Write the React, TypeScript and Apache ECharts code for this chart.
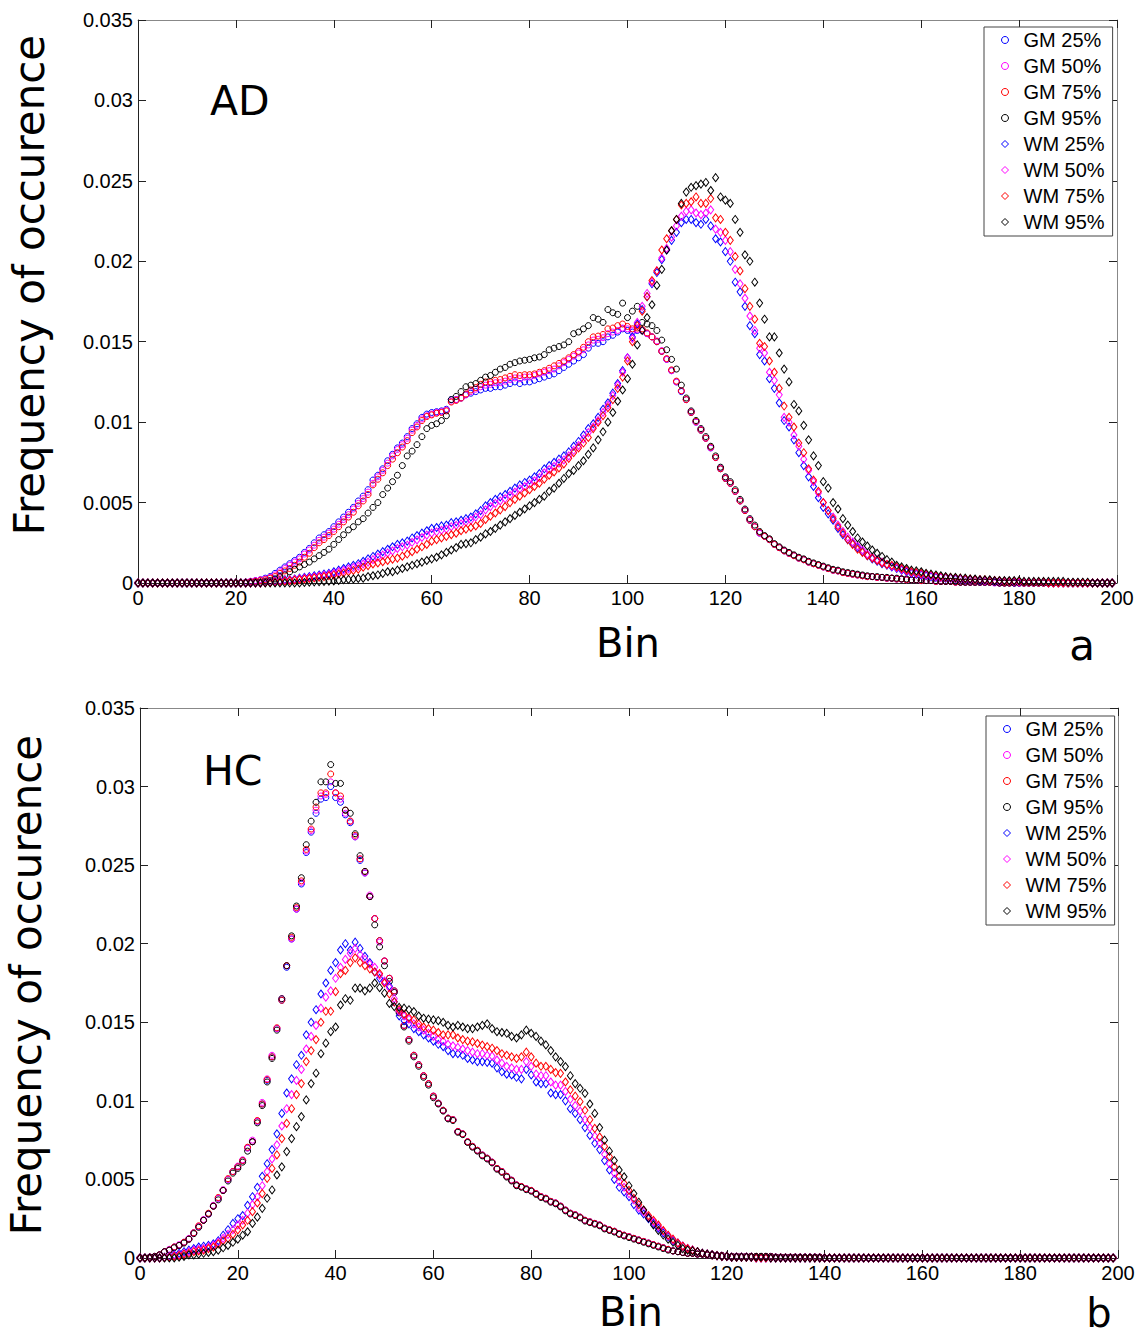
import React, { useEffect, useRef } from 'react';
import * as echarts from 'echarts';

// Values are in units of 1e-4 (frequency of occurence x 10000), index = bin (0..199)
const SERIES_NAMES = ['GM 25%', 'GM 50%', 'GM 75%', 'GM 95%', 'WM 25%', 'WM 50%', 'WM 75%', 'WM 95%'];
const SERIES_COLORS = ['#0000ff', '#ff00ff', '#ff0000', '#000000', '#0000ff', '#ff00ff', '#ff0000', '#000000'];
const X_TICK_STEP = 20;
const Y_MAX = 0.035;
const Y_STEP = 0.005;

// ---------------- Panel a (AD) ----------------
const GM25_A = [
  0,0,0,0,0,0,0,0,0,0,
  0,0,0,0,0,0,0,0,0,0,
  0,0,0.5,1,1.5,2,3,4,6,8,
  10,12,14,16,19,21.5,25,28,30,32,
  35,38,41,44,47,51,54,58,64,67,
  71,76,80,84,87,91,96,99,103,105,
  106,106.5,107,108,114,114,115,117,118,119,
  120,121,121,122,122,123,124,125,124,125,
  125,126,127,128,129,130,132,134,136,138,
  140,142,146,149,149,150,153,154,156,158,
  157,156,157,157,155,153,150,144,139,132,
  125,119,114,106,100,95,90,84,78,71,
  65,62,57,51,45,39,35,31,29,27,
  24,22,20,18.5,17,15.5,14.5,13,12,11,
  10,9,8,7.5,6.5,6,5.5,5,4.5,4,
  4,3.5,3.5,3,3,2.5,2.5,2,2,2,
  1.5,1.5,1.5,1,1,1,1,0.5,0.5,0.5,
  0.5,0.5,0.5,0.5,0.5,0.5,0,0,0,0,
  0,0,0,0,0,0,0,0,0,0,
  0,0,0,0,0,0,0,0,0,0,
];
const GM50_A = [
  0,0,0,0,0,0,0,0,0,0,
  0,0,0,0,0,0,0,0,0,0,
  0,0,0.5,1,1.5,2,2.5,3.5,5,7,
  9,11,13,15,18,20.5,23.5,26.5,28.5,31,
  33.5,36.5,39.5,42.5,46,49.5,52.5,56.5,62,66,
  70,74.5,79,83,86,90,95,98,102,104,
  105,106,106.5,107.5,113,114,115,117,119,120.5,
  122,123,123.5,124.5,124.5,125.5,126.5,127.5,127,128,
  128,129,130,131,132,133,135,137,139,141,
  143,145,148,151,151.5,152.5,155,156,157,158.5,
  158,157,157.5,157,155,153,150.5,144.5,139,132,
  125,119.5,114,106.5,100,95.5,90,84,78,71.5,
  65.5,62,57,51,45.5,39.5,35,31,29,27,
  24,22,20,18.5,17,15.5,14.5,13,12,11,
  10,9,8,7.5,6.5,6,5.5,5,4.5,4,
  4,3.5,3.5,3,3,2.5,2.5,2,2,2,
  1.5,1.5,1.5,1,1,1,1,0.5,0.5,0.5,
  0.5,0.5,0.5,0.5,0.5,0,0,0,0,0,
  0,0,0,0,0,0,0,0,0,0,
  0,0,0,0,0,0,0,0,0,0,
];
const GM75_A = [
  0,0,0,0,0,0,0,0,0,0,
  0,0,0,0,0,0,0,0,0,0,
  0,0,0.3,0.7,1,1.5,2,3,4,6,
  7.5,9,11,13,16,18.5,22,25,27,29.5,
  32,35,38,41,44,48,51,55,61,64.5,
  68.5,73,77,81,84.5,88.5,93.5,97,101,103.5,
  104.5,105.5,106,107,112.5,113.5,115,117.5,120,121.5,
  123.5,125,125,126,126.5,127.5,128.5,129.5,129,129.5,
  129.5,130,131,132,133.5,135,136.5,138,140,142,
  144,146.5,150,153,153.5,154.5,158,158.5,160,161,
  159.5,158,158.5,158,155.5,153,150,144,139.5,132.5,
  125.5,119.5,114,106,100.5,95,90,84.5,78,71,
  65,62,57,51,45,39,35,31.5,29,27,
  24,22,20,18.5,17,15.5,14.5,13,12,11,
  10,9,8,7.5,6.5,6,5.5,5,4.5,4,
  4,3.5,3.5,3,3,2.5,2.5,2,2,2,
  1.5,1.5,1.5,1,1,1,1,0.5,0.5,0.5,
  0.5,0.5,0.5,0.5,0.5,0.5,0,0,0,0,
  0,0,0,0,0,0,0,0,0,0,
  0,0,0,0,0,0,0,0,0,0,
];
const GM95_A = [
  0,0,0,0,0,0,0,0,0,0,
  0,0,0,0,0,0,0,0,0,0,
  0,0,0,0,0.5,0.5,1,1.5,2.5,4,
  5,7,8.5,10,11.5,13,15,17,19,21,
  24,27,30,33,35,38,40,43.5,47,50,
  55,59,63,67,73,79,82,86,91,96,
  98,99,101,104,114,116,119,122,123,124,
  126,128,129,131,133,134,136,137,138,138.5,
  139,140,140.5,142,145,146,147,148,150,155,
  156,158,160,165,164,162,170,168,167,174,
  165,169,172,162,161,160,157,151,145,139,
  133,123,115,107,101,96,91,85,79,72,
  66,63,58,52,46,40,36,32,29.5,27.5,
  24.5,22.5,20.5,19,17.5,16,15,13.5,12.5,11.5,
  10.5,9.5,8.5,8,7,6.5,6,5.5,5,4.5,
  4,4,3.5,3.5,3,3,2.5,2.5,2,2,
  2,1.5,1.5,1.5,1,1,1,1,0.5,0.5,
  0.5,0.5,0.5,0.5,0.5,0.5,0,0,0,0,
  0,0,0,0,0,0,0,0,0,0,
  0,0,0,0,0,0,0,0,0,0,
];
const WM25_A = [
  0,0,0,0,0,0,0,0,0,0,
  0,0,0,0,0,0,0,0,0,0,
  0,0,0,0,0,0,0.5,0.7,1,1.5,
  2,2,2.5,3,3.5,4,4.5,5,5.5,6,
  7,8,9,10,11,12,13.5,15,16.5,18,
  19.5,21,22.5,24,25,26,28,29.5,31,32.5,
  34,34.5,35.5,36,37.5,38,39,40,41,43,
  45,48,50,52,53.5,55,57,59,61,62.5,
  64,66,68,71,73,75,77,79,81.5,85,
  88,92,96,99,103,108,112,118,124,132,
  140,153,161,170,178,186,193,201,207,213,
  218,224,226,226,224,223,226,222,214,212,
  206,200,187,181,172,160,155,142,138,127,
  121,112,101,97,89,81,73,66,60,53,
  47,43,39,34,30,27,24.5,22,19.5,17,
  15,13.5,12,11,10,9,8,7,6,5.5,
  5,4.5,4,3.5,3.5,3,3,2.5,2.5,2,
  2,2,1.5,1.5,1.5,1,1,1,1,0.5,
  0.5,0.5,0.5,0.5,0.5,0.5,0,0,0,0,
  0,0,0,0,0,0,0,0,0,0,
];
const WM50_A = [
  0,0,0,0,0,0,0,0,0,0,
  0,0,0,0,0,0,0,0,0,0,
  0,0,0,0,0,0,0.3,0.5,0.8,1.2,
  1.6,1.8,2.2,2.6,3,3.4,3.8,4.3,4.8,5.3,
  6,7,7.8,8.7,9.6,10.5,11.8,13,14.5,16,
  17.3,18.7,20,21.5,22.5,23.5,25.3,26.8,28.3,29.8,
  31,31.8,32.8,33.5,35,35.8,36.8,38,39,41,
  42.5,45.5,47.5,49.5,51,52.5,54.5,56.5,58.5,60,
  61.5,63.5,65.5,68.5,70.5,72.5,74.5,76.5,79,82.5,
  85.5,89.5,93.5,97,101,106,110.5,116.5,123,131,
  140,152,162,172,180,187,194,202,208,215,
  222,228,231,232,230,229,230,232,220,218,
  213,206,195,186,177,166,157,146,143,131,
  126,117,103,100,92,85,77,70,63,56,
  50,45,41,36,32,28.5,25.5,23,20.5,18,
  16,14.5,13,11.5,10.5,9.5,8.5,7.5,6.5,6,
  5.5,5,4.5,4,3.5,3.5,3,3,2.5,2.5,
  2,2,2,1.5,1.5,1.5,1,1,1,1,
  0.5,0.5,0.5,0.5,0.5,0.5,0,0,0,0,
  0,0,0,0,0,0,0,0,0,0,
];
const WM75_A = [
  0,0,0,0,0,0,0,0,0,0,
  0,0,0,0,0,0,0,0,0,0,
  0,0,0,0,0,0,0.2,0.4,0.6,0.9,
  1.2,1.5,1.8,2.1,2.5,2.8,3.2,3.6,4,4.5,
  5,5.6,6.2,7,7.8,8.6,9.8,10.8,11.8,12.5,
  13.2,14,14.8,15.5,16.7,18,19.5,21,22.5,24,
  26,27,28,29,30,31,32.5,33.5,34.5,35.5,
  37,39.5,41.5,43.5,45.5,47.5,50,52,54,56,
  58,60,62,64.5,67,69,71.5,74,77.5,81,
  84,87,90.5,96,100,104,109,114,121,128,
  138,150,160,169,178,188,194,207,214,219,
  226,235,236,237,240,236,236,239,227,226,
  218,213,203,194,183,172,164,149,147,138,
  131,121,110,103,97,87,81,71,64,57,
  50,45,40,35,31,27,24,21,19,17,
  15.5,14,12.5,11.5,11,10,9,8,7,6.5,
  6,5.5,5,4.5,4,3.5,3.5,3,3,2.5,
  2.5,2,2,2,1.5,1.5,1.5,1,1,1,
  1,0.5,0.5,0.5,0.5,0.5,0,0,0,0,
  0,0,0,0,0,0,0,0,0,0,
];
const WM95_A = [
  0,0,0,0,0,0,0,0,0,0,
  0,0,0,0,0,0,0,0,0,0,
  0,0,0,0,0,0,0,0,0,0,
  0,0,0,0,0.3,0.5,0.7,0.8,1,1.2,
  1.3,1.6,2,2.2,2.5,2.8,3,4,4.5,5,
  6,7,7,8,9,10,11,12,13,14,
  15,16,17.5,19,20.5,22,24,24.5,25,27,
  28.5,30.5,32,34,36,38,40,42,44,46,
  48,50,52,54,57,59,62,65,68,70,
  73,76,80,84,89,94,100,106,113,120,
  127,136,148,157,165,173,185,195,207,219,
  226,236,243,246,247,248,249,244,252,240,
  238,236,226,218,204,200,187,174,164,153,
  153,143,133,125,111,107,98,89,79,73,
  63,59,50,46,40,36,32,28,25.5,23,
  20.5,18.5,16.5,14.5,13,11,10,9,8,7.5,
  7,6,5.5,5,4.5,4,3.5,3.5,3,3,
  2.5,2.5,2,2,2,1.5,1.5,1.5,1.5,1.5,
  1.5,1,1,1,1,1,1,1,1,1,
  0.5,0.5,0.5,0.5,0.5,0,0,0,0,0,
];

// ---------------- Panel b (HC) ----------------
const GM25_B = [
  0,0,0.5,1,2,4,5,7,8,10,
  12,16,20,24,28,33,38,43,50,55,
  58,62,70,74,87,98,113,128,146,164,
  185,203,222,238,258,271,283,292,293,300,
  293,290,282,277,268,253,245,230,216,202,
  189,178,170,157,148,139,129,123,116,111,
  103,98.5,94,89,88,80.5,79,74,71,68.5,
  65.5,63.5,61,57,55,52,49.5,46.5,45.5,44,
  43,41,39,38,36,35,33,30.5,28.5,27.5,
  26,24,23,22,21,19,18,17,15.5,14.5,
  13.5,12.5,11.5,10.5,9.5,8.5,7.5,6.5,5.5,4.5,
  4,3.5,3,3,2.5,2.5,2,2,1.5,1.5,
  1,1,1,1,1,1,1,1,1,1,
  0.5,0.5,0.5,0.5,0.5,0.5,0.5,0.5,0.5,0.5,
  0,0,0,0,0,0,0,0,0,0,
  0,0,0,0,0,0,0,0,0,0,
  0,0,0,0,0,0,0,0,0,0,
  0,0,0,0,0,0,0,0,0,0,
  0,0,0,0,0,0,0,0,0,0,
  0,0,0,0,0,0,0,0,0,0,
];
const GM50_B = [
  0,0,0.5,1,2,4,5.5,7,8.5,10,
  12.5,16,20,24.5,28,33.5,38,43.5,50,55,
  58.5,62.5,70,75,87,99,114,129,146,165,
  186,203,222,239,259,272,285,294,295,303,
  296,292,283,278,268,254,245,231,216,201,
  189,178,169,157,148,139,129,123,116,111,
  103,98.5,94,89,88,80.5,79,74,71,68.5,
  65.5,63.5,61,57,55,52,49.5,46.5,45.5,44,
  43,41,39,38,36,35,33,30.5,28.5,27.5,
  26,24,23,22,21,19,18,17,15.5,14.5,
  13.5,12.5,11.5,10.5,9.5,8.5,7.5,6.5,5.5,4.5,
  4,3.5,3,3,2.5,2.5,2,2,1.5,1.5,
  1,1,1,1,1,1,1,1,1,1,
  0.5,0.5,0.5,0.5,0.5,0.5,0.5,0.5,0.5,0.5,
  0,0,0,0,0,0,0,0,0,0,
  0,0,0,0,0,0,0,0,0,0,
  0,0,0,0,0,0,0,0,0,0,
  0,0,0,0,0,0,0,0,0,0,
  0,0,0,0,0,0,0,0,0,0,
  0,0,0,0,0,0,0,0,0,0,
];
const GM75_B = [
  0,0,0.5,1,2,4,5,7,8,10,
  12,16,20.5,24,28.5,33,38.5,43,50.5,55,
  58,62,70.5,74,87.5,98,113.5,128,146.5,164,
  186,204,223,240,260,273,287,296,296,308,
  296,294,285,278,269,254,246,230,216,202,
  189,178,170,157,148,139,129,123,116,111,
  103,98.5,94,89,88,80.5,79,74,71,68.5,
  65.5,63.5,61,57,55,52,49.5,46.5,45.5,44,
  43,41,39,38,36,35,33,30.5,28.5,27.5,
  26,24,23,22,21,19,18,17,15.5,14.5,
  13.5,12.5,11.5,10.5,9.5,8.5,7.5,6.5,5.5,4.5,
  4,3.5,3,3,2.5,2.5,2,2,1.5,1.5,
  1,1,1,1,1,1,1,1,1,1,
  0.5,0.5,0.5,0.5,0.5,0.5,0.5,0.5,0.5,0.5,
  0,0,0,0,0,0,0,0,0,0,
  0,0,0,0,0,0,0,0,0,0,
  0,0,0,0,0,0,0,0,0,0,
  0,0,0,0,0,0,0,0,0,0,
  0,0,0,0,0,0,0,0,0,0,
  0,0,0,0,0,0,0,0,0,0,
];
const GM95_B = [
  0,0,0.5,1,2,4,5,6.5,8,9.5,
  12,15.5,19.5,24,28,33,37,43,49,54,
  57,61,68,74,86,97,112,127,145,165,
  186,205,224,242,263,278,290,303,303,314,
  302,302,285,283,270,256,246,230,212,198,
  186,176,169,156,147,138,128,122,115,110,
  102,98,93.5,88.5,87.5,80,78.5,73.5,70.5,68,
  65,63,60.5,56.5,54.5,51.5,49,46,45,43.5,
  42.5,40.5,38.5,37.5,35.5,34.5,32.5,30,28,27,
  25.5,23.5,22.5,21.5,20.5,18.5,17.5,16.5,15,14,
  13,12,11,10,9,8,7,6,5,4.5,
  4,3.5,3,3,2.5,2.5,2,2,1.5,1.5,
  1,1,1,1,1,1,1,1,1,1,
  0.5,0.5,0.5,0.5,0.5,0.5,0.5,0.5,0.5,0.5,
  0,0,0,0,0,0,0,0,0,0,
  0,0,0,0,0,0,0,0,0,0,
  0,0,0,0,0,0,0,0,0,0,
  0,0,0,0,0,0,0,0,0,0,
  0,0,0,0,0,0,0,0,0,0,
  0,0,0,0,0,0,0,0,0,0,
];
const WM25_B = [
  0,0,0,0,0,0.5,1,2,3,4,
  5,6,7,7.5,8,9,11,14.5,18,22,
  25,27,33.5,39,45,52,60,69,79,92,
  105,114,123,129,142,150,158,168,175,183,
  188,196,200,196,201,197,192,188,182,178,
  176,173,163,154,151,149,146,144,142,140,
  138,136,134.5,132,130,130,129,127,126,125,
  125,124.5,124,121,118.5,117,116.5,115,114,120,
  116.5,112,111,111,105,104,104,100,95,92,
  88,83,78,73,69,62,56,50,45,42,
  39,34,30.5,28,25,22,19,16,13.5,11,
  9.5,7.5,6,5,4,3,2.5,2,1.5,1,
  1,0.5,0.5,0.5,0.5,0.5,0,0,0,0,
  0,0,0,0,0,0,0,0,0,0,
  0,0,0,0,0,0,0,0,0,0,
  0,0,0,0,0,0,0,0,0,0,
  0,0,0,0,0,0,0,0,0,0,
  0,0,0,0,0,0,0,0,0,0,
  0,0,0,0,0,0,0,0,0,0,
  0,0,0,0,0,0,0,0,0,0,
];
const WM50_B = [
  0,0,0,0,0,0.3,0.7,1.5,2,3,
  4,5,5.5,6,7,8,10,12.5,15,18,
  21,24,28.5,34,39,46,55,63,72,84,
  95,104,113,120,133,141,148,159,166,170,
  178,185,190,194,197,193,190,187,185,180,
  176,172,165,157,154,152,149,147,145,143,
  141,139,138,136,135,134,133,132,131,130,
  130,129,128.5,126,124,122,121,120,120,125,
  122,117,116,116,112,110,110,106,101,97,
  93.5,88,83,77.5,73,66,60,54,48.5,45,
  41,37,32,29.5,26,23,20,17,14,11.5,
  9.5,7.5,6,5,4,3,2.5,2,1.5,1,
  1,0.5,0.5,0.5,0.5,0.5,0,0,0,0,
  0,0,0,0,0,0,0,0,0,0,
  0,0,0,0,0,0,0,0,0,0,
  0,0,0,0,0,0,0,0,0,0,
  0,0,0,0,0,0,0,0,0,0,
  0,0,0,0,0,0,0,0,0,0,
  0,0,0,0,0,0,0,0,0,0,
  0,0,0,0,0,0,0,0,0,0,
];
const WM75_B = [
  0,0,0,0,0,0.2,0.5,1,1.5,2.5,
  3,4,4.5,5,6,7,9,11,12.5,15,
  17.8,21,24,29.5,35,41,50.7,57,65.6,76,
  85.7,95,104,111,125,132,139,150,157,157,
  169.5,181,183,188,191,188,186,184,182,181,
  175,168,163,158,155,153,151.5,149,147,146,
  145,143.5,142,142,142,140,139,138,137.5,136.5,
  135.5,134.5,133.5,132,130,129,128,127,128,131,
  128,124,122,122,120,118,117.5,112,107,103,
  99.5,94,88,82.5,77,71,64.5,58,52,47.5,
  43,38,34,30.5,27,24,21,17.5,14.5,12,
  9.5,7.5,6,5,4,3,2.5,2,1.5,1,
  1,0.5,0.5,0.5,0.5,0.5,0,0,0,0,
  0,0,0,0,0,0,0,0,0,0,
  0,0,0,0,0,0,0,0,0,0,
  0,0,0,0,0,0,0,0,0,0,
  0,0,0,0,0,0,0,0,0,0,
  0,0,0,0,0,0,0,0,0,0,
  0,0,0,0,0,0,0,0,0,0,
  0,0,0,0,0,0,0,0,0,0,
];
const WM95_B = [
  0,0,0,0,0,0,0,0,0.5,1,
  2,2,2.5,3,3.5,4,5,6.5,8,10,
  12,14.5,16.7,22,26,31.6,38,43.3,52.8,58,
  67.7,76,83.6,90,100.6,111,117.6,130,136.7,144,
  147,161,165,164,171.7,171.7,170,171.7,175,172,
  168.5,162,160,159.5,159,158,156.8,154,152.6,152,
  151.5,151,150,148,147,148,147,146,146,147,
  148,149,146,144,143.5,143,141,140,142,145,
  143,141,138,135.6,132,128,125,121.8,116,111,
  108,104.8,98,92,83,75,68,62,56,51.7,
  46,41,35.5,30.5,25.5,21,17.5,14.6,12,10,
  8,6,5,4.5,4,3,2.5,2,1.5,1,
  1,0.5,0.5,0.5,0.5,0.5,0.5,0.5,0.5,0,
  0,0,0,0,0,0,0,0,0,0,
  0,0,0,0,0,0,0,0,0,0,
  0,0,0,0,0,0,0,0,0,0,
  0,0,0,0,0,0,0,0,0,0,
  0,0,0,0,0,0,0,0,0,0,
  0,0,0,0,0,0,0,0,0,0,
  0,0,0,0,0,0,0,0,0,0,
];

const PANEL_A = [GM25_A, GM50_A, GM75_A, GM95_A, WM25_A, WM50_A, WM75_A, WM95_A];
const PANEL_B = [GM25_B, GM50_B, GM75_B, GM95_B, WM25_B, WM50_B, WM75_B, WM95_B];

const TICK_FONT = "'Liberation Sans', Arial, sans-serif";
const TITLE_FONT = "'DejaVu Sans', Verdana, sans-serif";

function makeXAxes(gridIndex: number) {
  const base = {
    gridIndex,
    type: 'value' as const,
    min: 0,
    max: 200,
    interval: X_TICK_STEP,
    splitLine: { show: false },
  };
  return [
    {
      ...base,
      position: 'bottom',
      axisLine: { show: true, onZero: false, lineStyle: { color: '#222', width: 1 } },
      axisTick: { show: true, inside: true, length: 8, lineStyle: { color: '#222' } },
      axisLabel: { show: true, color: '#000', fontSize: 20, fontFamily: TICK_FONT, margin: 5 },
    },
    {
      ...base,
      position: 'top',
      axisLine: { show: true, onZero: false, lineStyle: { color: '#888', width: 1 } },
      axisTick: { show: true, inside: true, length: 8, lineStyle: { color: '#222' } },
      axisLabel: { show: false },
    },
  ];
}

function yFmt(v: number) {
  return v === 0 ? '0' : String(Number(v.toFixed(3)));
}

function makeYAxes(gridIndex: number) {
  const base = {
    gridIndex,
    type: 'value' as const,
    min: 0,
    max: Y_MAX,
    interval: Y_STEP,
    splitLine: { show: false },
  };
  return [
    {
      ...base,
      position: 'left',
      axisLine: { show: true, onZero: false, lineStyle: { color: '#222', width: 1 } },
      axisTick: { show: true, inside: true, length: 8, lineStyle: { color: '#222' } },
      axisLabel: { show: true, color: '#000', fontSize: 20, fontFamily: TICK_FONT, margin: 5, formatter: yFmt },
    },
    {
      ...base,
      position: 'right',
      axisLine: { show: true, onZero: false, lineStyle: { color: '#888', width: 1 } },
      axisTick: { show: true, inside: true, length: 8, lineStyle: { color: '#222' } },
      axisLabel: { show: false },
    },
  ];
}

function makeSeries(panel: number[][], axisIndex: number) {
  return panel.map((arr, k) => {
    const isDiamond = k >= 4;
    return {
      type: 'scatter',
      name: SERIES_NAMES[k],
      xAxisIndex: axisIndex,
      yAxisIndex: axisIndex,
      symbol: isDiamond ? 'diamond' : 'circle',
      symbolSize: isDiamond ? [6, 8] : 6,
      itemStyle: { color: 'rgba(0,0,0,0)', borderColor: SERIES_COLORS[k], borderWidth: 1, opacity: 1 },
      emphasis: { disabled: true },
      data: arr.map((v, i) => [i, v / 10000]),
      z: 2 + k * 0.01,
    };
  });
}

function makeLegend(left: number, top: number) {
  return {
    orient: 'vertical',
    left,
    top,
    padding: [3, 8, 4, 17],
    itemGap: 6,
    itemWidth: 7,
    itemHeight: 7,
    borderColor: '#444',
    borderWidth: 1,
    backgroundColor: '#fff',
    selectedMode: false,
    textStyle: { fontSize: 20, fontFamily: TICK_FONT, color: '#000', padding: [0, 0, 0, 10] },
    data: SERIES_NAMES.map((name, k) => ({
      name,
      icon: k >= 4 ? 'diamond' : 'circle',
      itemStyle: { color: 'rgba(0,0,0,0)', borderColor: SERIES_COLORS[k], borderWidth: 1 },
    })),
  };
}

function titleText(text: string, x: number, y: number, size: number, rotate = false, align = 'center') {
  return {
    type: 'text',
    x,
    y,
    rotation: rotate ? Math.PI / 2 : 0,
    silent: true,
    z: 10,
    style: {
      text,
      fill: '#000',
      font: `${size}px ${TITLE_FONT}`,
      align,
      verticalAlign: 'middle',
    },
  };
}

export default function App() {
  const ref = useRef<HTMLDivElement>(null);
  useEffect(() => {
    if (!ref.current) return;
    const chart = echarts.init(ref.current, null, { renderer: 'svg' });
    const option: any = {
      animation: false,
      backgroundColor: '#fff',
      grid: [
        { left: 138, top: 20, width: 979, height: 563 },
        { left: 140, top: 708, width: 978, height: 550 },
      ],
      xAxis: [...makeXAxes(0), ...makeXAxes(1)],
      yAxis: [...makeYAxes(0), ...makeYAxes(1)],
      legend: [makeLegend(984, 27), makeLegend(986, 716)],
      series: [...makeSeries(PANEL_A, 0), ...makeSeries(PANEL_B, 2)],
      graphic: [
        titleText('Frequency of occurence', 29, 285, 42, true),
        titleText('Frequency of occurence', 26, 985, 42, true),
        titleText('Bin', 628, 643, 40),
        titleText('Bin', 631, 1312, 40),
        titleText('AD', 210, 101, 41, false, 'left'),
        titleText('HC', 203, 771, 41, false, 'left'),
        titleText('a', 1082, 645, 42),
        titleText('b', 1099, 1313, 40),
      ],
    };
    chart.setOption(option);
    return () => chart.dispose();
  }, []);
  return (
    <div
      ref={ref}
      style={{ position: 'absolute', left: 0, top: 0, width: 1141, height: 1336, background: '#fff' }}
    />
  );
}
